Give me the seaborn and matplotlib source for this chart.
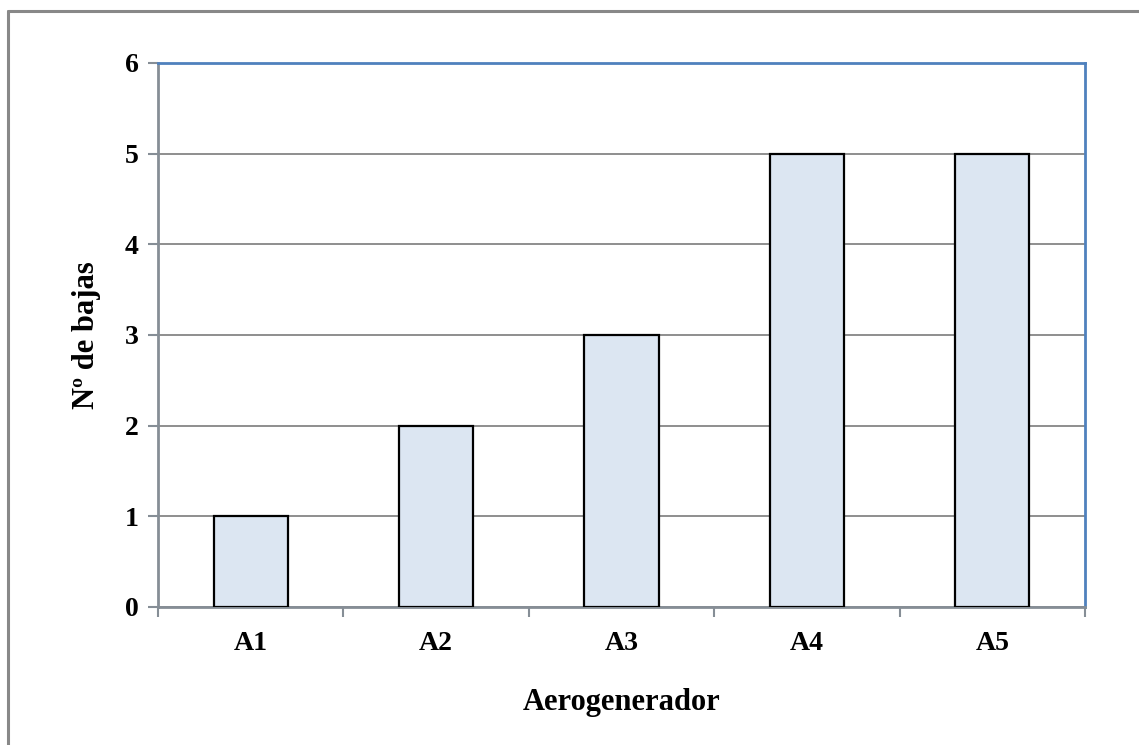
import matplotlib
matplotlib.use("Agg")
import matplotlib.pyplot as plt
from matplotlib.lines import Line2D
import seaborn as sns
import pandas as pd

categories = ["A1", "A2", "A3", "A4", "A5"]
bajas = [1, 2, 3, 5, 5]
y_ticks = [0, 1, 2, 3, 4, 5, 6]

sns.set_style("white")
plt.rcParams["font.family"] = ["Liberation Serif", "DejaVu Serif"]
plt.rcParams["font.weight"] = "bold"
plt.rcParams["text.color"] = "black"
plt.rcParams["axes.labelcolor"] = "black"
plt.rcParams["xtick.labelcolor"] = "black"
plt.rcParams["ytick.labelcolor"] = "black"

W, H = 1139, 745
fig = plt.figure(figsize=(W / 100, H / 100), dpi=100)
ax = fig.add_axes([158 / W, 1 - 607 / H, (1085 - 158) / W, (607 - 63) / H])

df = pd.DataFrame({"Aerogenerador": categories, "bajas": bajas})
sns.barplot(data=df, x="Aerogenerador", y="bajas", ax=ax, width=0.4,
            color="#DCE6F2", edgecolor="black", linewidth=1.6, saturation=1,
            zorder=3)

ax.set_xlim(-0.5, len(categories) - 0.5)
ax.set_ylim(0, 6)
ax.set_yticks(y_ticks)
ax.set_yticklabels([str(t) for t in y_ticks], fontsize=20, fontweight="bold")
ax.set_xticks(range(len(categories)))
ax.set_xticklabels(categories, fontsize=20, fontweight="bold")

# Gridlines
ax.yaxis.grid(True, color="#868686", linewidth=1.3, zorder=1)
ax.set_axisbelow(True)

# Spines: gray axes, blue frame on top/right
for s in ["left", "bottom"]:
    ax.spines[s].set_color("#868E96")
    ax.spines[s].set_linewidth(2)
for s in ["top", "right"]:
    ax.spines[s].set_color("#4F81BD")
    ax.spines[s].set_linewidth(2)

# Tick marks: y major outward, x at category boundaries
ax.tick_params(axis="y", direction="out", length=7, width=1.5, color="#868E96",
               pad=7, left=True)
ax.tick_params(axis="x", which="major", length=0, pad=17, bottom=True)
ax.set_xticks([i - 0.5 for i in range(len(categories) + 1)], minor=True)
ax.tick_params(axis="x", which="minor", direction="out", length=7, width=1.5,
               color="#868E96", bottom=True)

ax.set_xlabel("Aerogenerador", fontsize=22, fontweight="bold", labelpad=23)
ax.set_ylabel("Nº de bajas", fontsize=22, fontweight="bold", labelpad=17)

# Chart frame
fig.add_artist(Line2D([7.5 / W, 1.0], [1 - 10.5 / H, 1 - 10.5 / H],
                      transform=fig.transFigure, color="#888888", linewidth=2.2))
fig.add_artist(Line2D([7.5 / W, 7.5 / W], [0.0, 1 - 10.5 / H],
                      transform=fig.transFigure, color="#888888", linewidth=2.2))

fig.savefig("out.png", dpi=100, facecolor="white")
